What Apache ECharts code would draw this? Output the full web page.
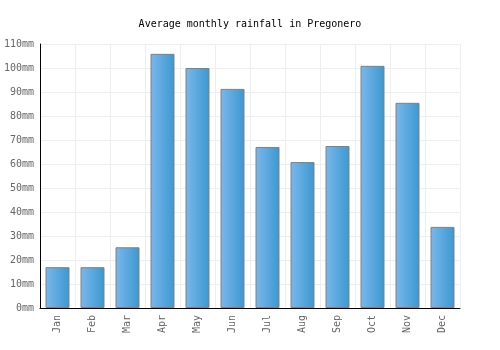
<!DOCTYPE html>
<html>
<head>
<meta charset="utf-8">
<script src="https://cdn.jsdelivr.net/npm/echarts@6/dist/echarts.min.js"></script>
<style>
  html, body { margin: 0; padding: 0; background: #fff; }
  #chart { width: 500px; height: 350px; }
</style>
</head>
<body>
<div id="chart"></div>
<script>
// monthly rainfall
const months = ["Jan", "Feb", "Mar", "Apr", "May", "Jun", "Jul", "Aug", "Sep", "Oct", "Nov", "Dec"];
const rainfall = [17, 17, 25.3, 105.9, 100, 91.3, 67.1, 60.8, 67.5, 100.9, 85.5, 33.8];

const font = "DejaVu Sans Mono";

const chart = echarts.init(document.getElementById("chart"));

var option = {
    backgroundColor: "#ffffff",
    animation: false,
    title: {
        text: "Average monthly rainfall in Pregonero",
        left: "center",
        top: 14,
        textStyle: { fontFamily: font, fontSize: 10, fontWeight: "normal", color: "#000" },
    },
    grid: { left: 40, right: 40, top: 44, bottom: 42, containLabel: false },
    xAxis: {
        type: "category",
        data: months,
        axisLine: { lineStyle: { color: "#000", width: 1 } },
        axisTick: { show: false },
        splitLine: { show: true, lineStyle: { color: "#eeeeee" } },
        axisLabel: {
            rotate: 90,
            fontFamily: font,
            fontSize: 10,
            color: "#666",
            margin: 7,
        },
    },
    yAxis: {
        type: "value",
        min: 0,
        max: 110,
        interval: 10,
        axisLine: { show: true, lineStyle: { color: "#000", width: 1 } },
        axisTick: { show: false },
        splitLine: { lineStyle: { color: "#eeeeee" } },
        axisLabel: {
            formatter: "{value}mm",
            fontFamily: font,
            fontSize: 10,
            color: "#666",
            margin: 6,
        },
    },
    series: [
        {
            type: "bar",
            data: rainfall,
            barWidth: 24,
            itemStyle: {
                borderColor: "#808080",
                borderWidth: 1,
                color: new echarts.graphic.LinearGradient(0, 0, 1, 0, [
                    { offset: 0, color: "#7ab8ec" },
                    { offset: 1, color: "#3b98d0" },
                ]),
            },
        },
    ],
};

chart.setOption(option);
</script>
</body>
</html>
